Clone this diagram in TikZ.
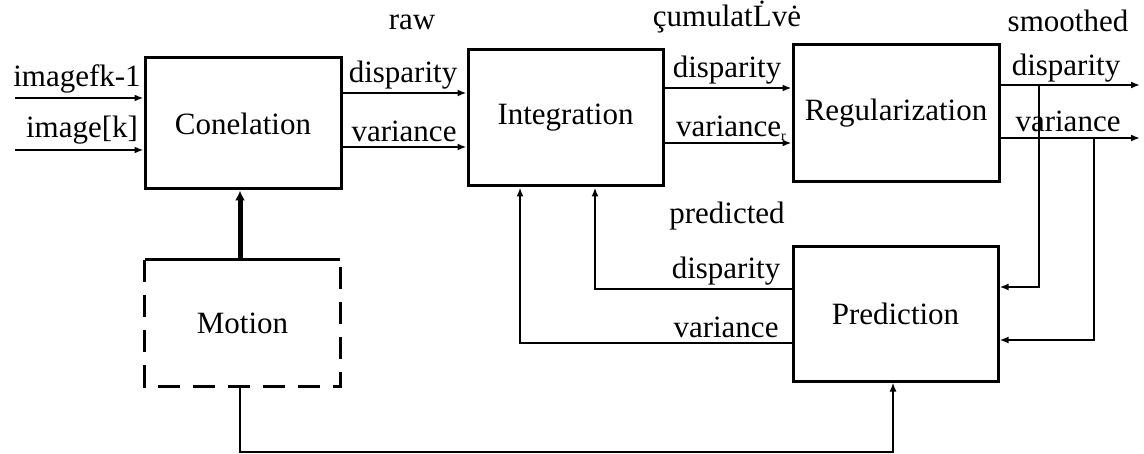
\documentclass[tikz,border=0pt]{standalone}
\usepackage{fontspec}
\setmainfont{Liberation Serif}
\usetikzlibrary{arrows.meta}
\begin{document}
\begin{tikzpicture}[x=0.5pt,y=-0.5pt,
  font=\fontsize{15.5}{18}\selectfont,
  blk/.style={draw,line width=1.5pt,inner sep=0pt,align=center},
  arr/.style={line width=1.4pt,-{Latex[length=4.5pt,width=3.5pt]}},
  ln/.style={line width=1.4pt},
  lbl/.style={anchor=base,inner sep=0pt}]
\useasboundingbox (0,0) rectangle (1144,454);
% blocks
\node[blk,minimum width=98pt,minimum height=65.5pt] (corr) at (243,123.5) {Conelation};
\node[blk,minimum width=97.5pt,minimum height=68pt] (integ) at (565.5,118) {Integration};
\node[blk,minimum width=103pt,minimum height=68.5pt] (reg) at (896,113.5) {Regularization};
\node[blk,minimum width=102.5pt,minimum height=67.5pt] (pred) at (895.5,313.5) {Prediction};
\node[inner sep=0pt,minimum width=97.5pt,minimum height=63pt] (motion) at (242.5,323) {Motion};
\draw[line width=1.3pt] (motion.north west) -- (motion.north east);
\draw[line width=1.5pt,dash pattern=on 11pt off 6.5pt] (motion.north west) -- (motion.south west) -- (motion.south east) -- (motion.north east);
% labels
\node[lbl] (tin1) at (77,87) {imagefk-1};
\node[lbl] (tin2) at (82,138) {image[k]};
\node[lbl] (traw) at (412,30) {raw};
\node[lbl] (trd) at (403,83) {disparity};
\node[lbl] (trv) at (404,142) {variance};
\node[lbl] (tcum) at (727,27) {\c{c}umulat\.{L}v\.{e}};
\node[lbl] (tcd) at (727,78) {disparity};
\node[lbl] (tcv) at (731,137) {variance\raisebox{-2pt}{\fontsize{7}{7}\selectfont r}};
\node[lbl] (tsm) at (1068,32) {smoothed};
\node[lbl] (tsd) at (1066,76) {disparity};
\node[lbl] (tsv) at (1068,132) {variance};
\node[lbl] (tpr) at (727,223) {predicted};
\node[lbl] (tpd) at (726,278) {disparity};
\node[lbl] (tpv) at (726,337) {variance};
% free ends
\coordinate (in1) at (15,98);
\coordinate (in2) at (15,150);
\coordinate (out1) at (1140,85);
\coordinate (out2) at (1140,138);
\coordinate (tap1) at (1039,85);
\coordinate (tap2) at (1094,138);
% connectors
\draw[arr] (in1) -- (in1 -| corr.west);
\draw[arr] (in2) -- (in2 -| corr.west);
\draw[arr] (corr.east |- 0,93) -- (integ.west |- 0,93);
\draw[arr] (corr.east |- 0,147) -- (integ.west |- 0,147);
\draw[arr] (integ.east |- 0,88) -- (reg.west |- 0,88);
\draw[arr] (integ.east |- 0,143) -- (reg.west |- 0,143);
\draw[arr] (reg.east |- out1) -- (out1);
\draw[arr] (reg.east |- out2) -- (out2);
\draw[arr] (tap1) -- (1039,287) -- (pred.east |- 0,287);
\draw[arr] (tap2) -- (1094,340) -- (pred.east |- 0,340);
\draw[arr] (pred.west |- 0,289) -- (595,289) -- (integ.south -| 595,0);
\draw[arr] (pred.west |- 0,343) -- (520,343) -- (integ.south -| 520,0);
\draw[arr] (motion.south -| 240,0) -- (240,452) -- (893,452) -- (pred.south -| 893,0);
\draw[line width=2.5pt,-{Latex[length=5pt,width=5pt]}] (motion.north -| 240,0) -- (corr.south -| 240,0);
\end{tikzpicture}
\end{document}
